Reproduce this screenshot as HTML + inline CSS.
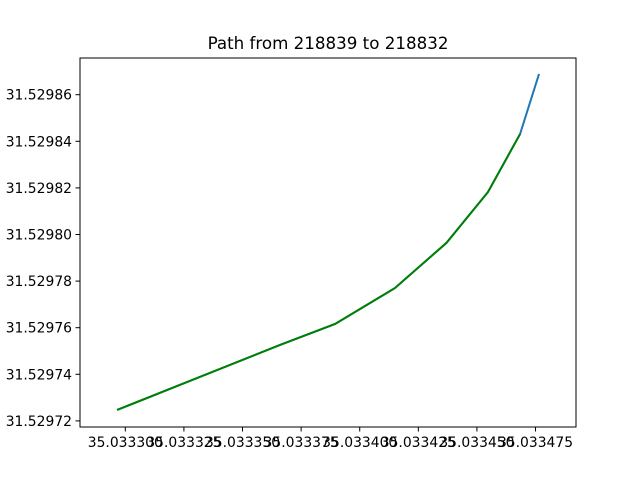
<!DOCTYPE html>
<html><head><meta charset="utf-8"><style>
body{margin:0;background:#fff;}
svg{display:block;font-family:"DejaVu Sans","Liberation Sans",sans-serif;}
</style></head><body>
<svg id="chart" width="640" height="480" viewBox="0 0 640 480">
<rect width="640" height="480" fill="#fff"/>
<text x="328" y="49" text-anchor="middle" font-size="16.7" fill="#000">Path from 218839 to 218832</text>
<g id="ticks"></g>
<g id="lines"></g>
<rect x="80" y="58" width="496" height="369" fill="none" stroke="#000" stroke-width="1"/>
</svg>
<script>
const xs = [35.0332965, 35.033366, 35.0333895, 35.033415, 35.033437, 35.0334547, 35.0334684, 35.0334765];
const ys = [31.5297247, 31.5297526, 31.5297616, 31.529777, 31.5297964, 31.5298182, 31.5298431, 31.5298689];
const greenCount = 7;
const xTicks = [35.0333, 35.033325, 35.03335, 35.033375, 35.0334, 35.033425, 35.03345, 35.033475];
const xTickLabels = ["35.033300","35.033325","35.033350","35.033375","35.033400","35.033425","35.033450","35.033475"];
const yTicks = [31.52972, 31.52974, 31.52976, 31.52978, 31.5298, 31.52982, 31.52984, 31.52986];
const yTickLabels = ["31.52972","31.52974","31.52976","31.52978","31.52980","31.52982","31.52984","31.52986"];

const X0=80,X1=576,Y0=58,Y1=427;
const xMin=35.03328067,xMax=35.03349227,yMin=31.52971738,yMax=31.52987575;
const sx=v=>X0+(v-xMin)/(xMax-xMin)*(X1-X0);
const sy=v=>Y1-(v-yMin)/(yMax-yMin)*(Y1-Y0);
const NS="http://www.w3.org/2000/svg";
const tg=document.getElementById('ticks'), lg=document.getElementById('lines');
function mk(t,a,p){const e=document.createElementNS(NS,t);for(const k in a)e.setAttribute(k,a[k]);p.appendChild(e);return e;}
xTicks.forEach((v,i)=>{const x=sx(v);
 const l=mk('line',{x1:x,x2:x,y1:Y1,y2:Y1+4.5,stroke:'#000'},tg);
 
 
 const t=mk('text',{x:x,y:Y1+20,'text-anchor':'middle','font-size':'13.9',fill:'#000'},tg);
 t.textContent=xTickLabels[i];
 
 });
yTicks.forEach((v,i)=>{const y=sy(v);
 const l=mk('line',{x1:X0-4.5,x2:X0,y1:y,y2:y,stroke:'#000'},tg);
 
 
 const t=mk('text',{x:X0-8,y:y+5,'text-anchor':'end','font-size':'13.9',fill:'#000'},tg);
 t.textContent=yTickLabels[i];
 
 });
const pts=xs.map((v,i)=>sx(v).toFixed(2)+','+sy(ys[i]).toFixed(2));
const b=mk('polyline',{points:pts.join(' '),fill:'none',stroke:'#1f77b4','stroke-width':'2'},lg);


const g=mk('polyline',{points:pts.slice(0,greenCount).join(' '),fill:'none',stroke:'#008000','stroke-width':'2'},lg);


</script>
</body></html>
